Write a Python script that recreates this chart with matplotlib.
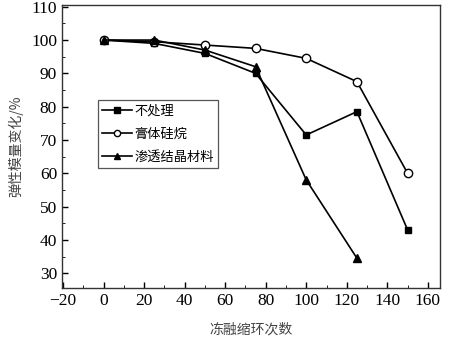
import matplotlib
matplotlib.use("Agg")
import matplotlib.pyplot as plt

plt.rcParams['font.family'] = ['Liberation Serif', 'Noto Sans CJK SC']

cycles = [0, 25, 50, 75, 100, 125, 150]
untreated = [100, 99, 96, 90, 71.5, 78.5, 43]
silane = [100, 99.5, 98.5, 97.5, 94.5, 87.5, 60]
cycles_cryst = [0, 25, 50, 75, 100, 125]
crystal = [100, 100, 97, 92, 58, 34.5]

fig = plt.figure(figsize=(4.49, 3.39), dpi=100)
ax = fig.add_axes([0.138, 0.15, 0.842, 0.835])

ax.plot(cycles, untreated, 'k-s', ms=5, lw=1.2, label='不处理')
ax.plot(cycles, silane, 'k-o', ms=6, lw=1.2, mfc='white', mew=1.0, label='膏体硅烷')
ax.plot(cycles_cryst, crystal, 'k-^', ms=6, lw=1.2, label='渗透结晶材料')

ax.set_xlim(-20.5, 166)
ax.set_ylim(25.5, 110.5)
ax.set_xticks(range(-20, 161, 20))
ax.set_xticklabels(['−20'] + [str(v) for v in range(0, 161, 20)])
ax.set_yticks(range(30, 111, 10))
ax.set_xticks(range(-10, 161, 20), minor=True)
ax.set_yticks(range(35, 110, 10), minor=True)
ax.tick_params(direction='in', labelsize=12.5, length=4, width=1)
ax.tick_params(which='minor', direction='in', length=2.5)
for s in ax.spines.values():
    s.set_linewidth(1.0)
    s.set_color('#333333')

ax.set_xlabel('冻融缩环次数', fontsize=10, color='#444444',
              family=['Noto Sans CJK SC'], labelpad=10)
ax.set_ylabel('弹性模量变化/%', fontsize=10, color='#444444',
              family=['Noto Sans CJK SC'], labelpad=6)

leg = ax.legend(loc='upper left', bbox_to_anchor=(0.095, 0.665), fancybox=False,
                edgecolor='#555555', framealpha=1, handlelength=2.2,
                handletextpad=0.2, borderpad=0.35, labelspacing=0.75,
                markerscale=0.75, borderaxespad=0,
                prop={'family': ['Noto Sans CJK SC'], 'size': 9.5})
leg.get_frame().set_linewidth(0.9)

fig.savefig('out.png', dpi=100)
